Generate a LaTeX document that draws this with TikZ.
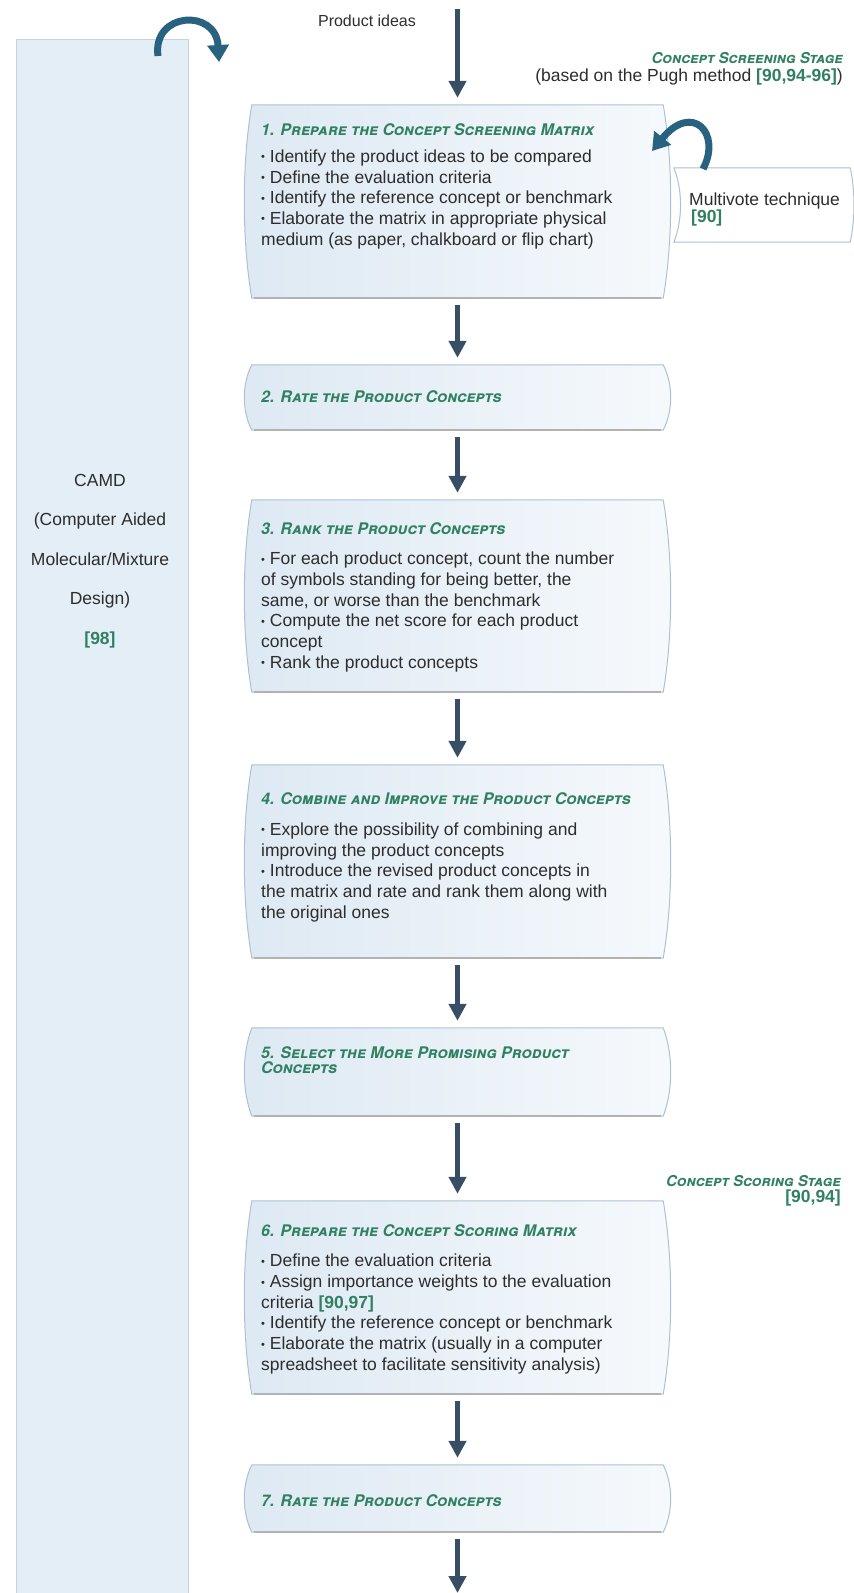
\documentclass[tikz,border=0pt]{standalone}
\usepackage{fontspec}
\setmainfont{Liberation Sans}
\newfontfamily\stagefont{TeX Gyre Heros}
\usetikzlibrary{arrows.meta,calc,backgrounds,positioning}

\definecolor{arrowblue}{RGB}{55,78,100}
\definecolor{loopblue}{RGB}{40,98,128}
\definecolor{refgreen}{RGB}{48,128,98}
\definecolor{boxline}{RGB}{172,194,210}
\definecolor{boxleft}{RGB}{221,233,243}
\definecolor{boxright}{RGB}{246,249,252}
\definecolor{colfill}{RGB}{228,238,246}
\definecolor{colline}{RGB}{196,212,225}
\definecolor{txt}{RGB}{45,45,45}

\newcommand{\rf}[1]{\textcolor{refgreen}{\textbf{#1}}}
\newcommand{\bul}{\raisebox{1.5pt}{\fontsize{11}{11}\selectfont\textbullet}\space}

\tikzset{
  stepbox/.style={rectangle, minimum width=411pt, inner sep=0pt},
  boxshape/.style={draw=boxline, line width=1pt, left color=boxleft, right color=boxright},
  boxfoot/.style={draw=black!30, line width=1.6pt},
  steptitle/.style={anchor=base west, inner sep=0pt, text=refgreen, align=left,
    font=\stagefont\fontsize{16}{15}\selectfont\bfseries\itshape\scshape},
  steptext/.style={anchor=north west, inner sep=0pt, align=left, text=txt,
    font=\fontsize{17.5}{20.7}\selectfont},
  note/.style={inner sep=0pt, text=txt, font=\fontsize{17.5}{20.7}\selectfont},
  stagelabel/.style={anchor=east, inner sep=0pt, text=refgreen,
    font=\stagefont\fontsize{15}{15}\selectfont\bfseries\itshape\scshape},
  camdcol/.style={rectangle, draw=colline, fill=colfill, line width=1pt, minimum width=172pt},
  flowarrow/.style={-{Triangle[width=17pt,length=17pt]}, line width=5pt, draw=arrowblue,
    shorten <=7pt, shorten >=7pt},
  looparrow/.style={-{Triangle[width=21pt,length=17pt]}, line width=7pt, draw=loopblue},
}

\begin{document}
\begin{tikzpicture}[x=1pt,y=-1pt]
\useasboundingbox (0,0) rectangle (854,1593);

% CAMD column
\node[camdcol, minimum height=1570pt, anchor=north] (col) at (102,39) {};
\node[note, align=center, font=\fontsize{17.5}{39.5}\selectfont] (camd) at (100,561)
  {CAMD\\(Computer Aided\\Molecular/Mixture\\Design)\\\rf{[98]}};
\coordinate (coltail) at (158,56);
\coordinate (colhead) at (219,62);
\draw[looparrow] (coltail) .. controls (152,12) and (216,8) .. (colhead);

% input
\node[note, font=\fontsize{16}{18}\selectfont] (ideas) at (367,21) {Product ideas};
\coordinate (in) at (457.5,9);
\coordinate (out) at (457.5,1593);

% stage labels
\node[stagelabel] (screen) at (843,58) {Concept Screening Stage};
\node[note, anchor=east] (pugh) at (843,77) {(based on the Pugh method \rf{[90,94-96]})};
\node[stagelabel] (score) at (841,1181) {Concept Scoring Stage};
\node[note, anchor=east] (scoreref) at (841,1198) {\rf{[90,94]}};

% steps
\node[stepbox, minimum height=193pt] (s1) at (457.5,201.5) {};
\node[steptitle] (t1) at (261,135.5) {1. Prepare the Concept Screening Matrix};
\node[steptext] (b1) at (261,149.5) {\bul Identify the product ideas to be compared\\
  \bul Define the evaluation criteria\\
  \bul Identify the reference concept or benchmark\\
  \bul Elaborate the matrix in appropriate physical\\
  medium (as paper, chalkboard or flip chart)};

\node[stepbox, minimum height=65pt] (s2) at (457.5,397.5) {};
\node[steptitle] (t2) at (261,402.5) {2. Rate the Product Concepts};

\node[stepbox, minimum height=192pt] (s3) at (457.5,596) {};
\node[steptitle] (t3) at (261,534) {3. Rank the Product Concepts};
\node[steptext] (b3) at (261,552) {\bul For each product concept, count the number\\
  of symbols standing for being better, the\\
  same, or worse than the benchmark\\
  \bul Compute the net score for each product\\
  concept\\
  \bul Rank the product concepts};

\node[stepbox, minimum height=193pt] (s4) at (457.5,861.5) {};
\node[steptitle] (t4) at (261,804) {4. Combine and Improve the Product Concepts};
\node[steptext] (b4) at (261,822.5) {\bul Explore the possibility of combining and\\
  improving the product concepts\\
  \bul Introduce the revised product concepts in\\
  the matrix and rate and rank them along with\\
  the original ones};

\node[stepbox, minimum height=88pt] (s5) at (457.5,1072) {};
\node[steptitle, anchor=north west] (t5) at (261,1046) {5. Select the More Promising Product\\Concepts};

\node[stepbox, minimum height=193pt] (s6) at (457.5,1297.5) {};
\node[steptitle] (t6) at (261,1236) {6. Prepare the Concept Scoring Matrix};
\node[steptext] (b6) at (261,1254) {\bul Define the evaluation criteria\\
  \bul Assign importance weights to the evaluation\\
  criteria \rf{[90,97]}\\
  \bul Identify the reference concept or benchmark\\
  \bul Elaborate the matrix (usually in a computer\\
  spreadsheet to facilitate sensitivity analysis)};

\node[stepbox, minimum height=67pt] (s7) at (457.5,1498.5) {};
\node[steptitle] (t7) at (261,1506) {7. Rate the Product Concepts};

% multivote side box
\node[rectangle, inner sep=0pt, minimum width=176pt, minimum height=74pt] (mv) at (762,205) {};
\node[steptext, font=\fontsize{17.5}{16.5}\selectfont] (mvt) at (689,193) {Multivote technique\\\hspace{2pt}\rf{[90]}};
\coordinate (mvtail) at (703,169);
\coordinate (mvhead) at (652,151);
\draw[looparrow] (mvtail) .. controls (722,133) and (692,102) .. (mvhead);

% box outlines
\begin{scope}[on background layer]
\foreach \s in {s1,s2,s3,s4,s5,s6,s7}{
  \path[boxshape] (\s.north west) -- (\s.north east)
    .. controls ($(\s.north east)!0.3!(\s.south east)+(10,0)$) and ($(\s.north east)!0.7!(\s.south east)+(10,0)$) .. (\s.south east)
    -- (\s.south west)
    .. controls ($(\s.north west)!0.7!(\s.south west)+(-10,0)$) and ($(\s.north west)!0.3!(\s.south west)+(-10,0)$) .. cycle;
  \draw[boxfoot] ([xshift=2pt]\s.south west) -- ([xshift=-2pt]\s.south east);
}
\path[draw=boxline, line width=1pt, fill=white] (mv.north west) -- (mv.north east)
  .. controls ($(mv.north east)!0.3!(mv.south east)+(5,0)$) and ($(mv.north east)!0.7!(mv.south east)+(5,0)$) .. (mv.south east)
  -- (mv.south west)
  .. controls ($(mv.north west)!0.7!(mv.south west)+(9,0)$) and ($(mv.north west)!0.3!(mv.south west)+(9,0)$) .. cycle;
\end{scope}

% flow
\draw[flowarrow, shorten <=0pt] (in) -- (s1);
\draw[flowarrow] (s1) -- (s2);
\draw[flowarrow] (s2) -- (s3);
\draw[flowarrow] (s3) -- (s4);
\draw[flowarrow] (s4) -- (s5);
\draw[flowarrow] (s5) -- (s6);
\draw[flowarrow] (s6) -- (s7);
\draw[flowarrow, shorten >=0pt] (s7) -- (out);
\end{tikzpicture}
\end{document}
